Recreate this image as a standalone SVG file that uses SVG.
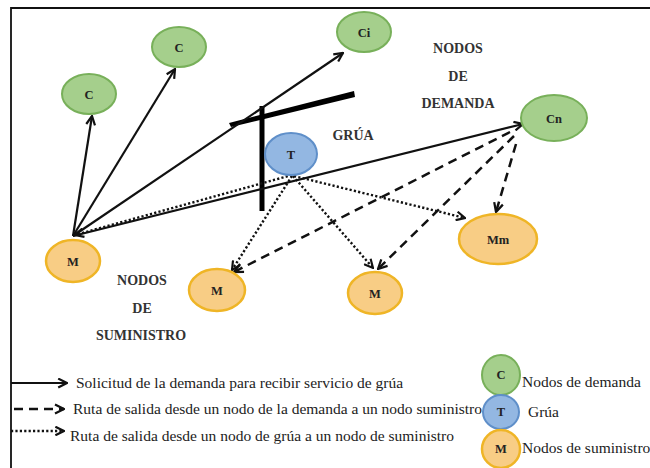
<svg xmlns="http://www.w3.org/2000/svg" width="650" height="468" viewBox="0 0 650 468">
<defs>
<marker id="ah" viewBox="0 0 10 10" refX="9" refY="5" markerWidth="5" markerHeight="5" orient="auto" markerUnits="strokeWidth">
<path d="M1,1 L9,5 L1,9" fill="none" stroke="#111" stroke-width="2"/>
</marker>
<marker id="ahs" viewBox="0 0 10 10" refX="9" refY="5" markerWidth="4.5" markerHeight="4.5" orient="auto" markerUnits="strokeWidth">
<path d="M1,1 L9,5 L1,9" fill="none" stroke="#111" stroke-width="2"/>
</marker>
</defs>
<style>
.g{fill:#a5cf8c;stroke:#78b05a;stroke-width:2}
.b{fill:#93b7e2;stroke:#5f8fc9;stroke-width:2}
.o{fill:#f8cd85;stroke:#efb526;stroke-width:2.5}
.sol{fill:none;stroke:#111;stroke-width:2.2;marker-end:url(#ah)}
.das{fill:none;stroke:#111;stroke-width:2.5;stroke-dasharray:9,6;marker-end:url(#ahs)}
.dot{fill:none;stroke:#111;stroke-width:2.4;stroke-dasharray:2.2,2.2;marker-end:url(#ahs)}
</style>
<rect width="650" height="468" fill="#fff"/>
<path d="M11,468 V8 H650" fill="none" stroke="#111" stroke-width="1.8"/>

<g id="crane">
<line x1="262" y1="106" x2="262" y2="211" stroke="#000" stroke-width="5"/>
<polygon points="229,123 231,127 355,97 354,91" fill="#000"/>
</g>

<g id="connectors">
<line class="sol" x1="73" y1="236" x2="92" y2="116"/>
<line class="sol" x1="73" y1="236" x2="175" y2="69"/>
<line class="sol" x1="73" y1="236" x2="343" y2="53"/>
<line class="sol" x1="73" y1="236" x2="523" y2="124"/>
<line class="dot" x1="292" y1="175" x2="75" y2="235"/>
<line class="dot" x1="292" y1="176" x2="232" y2="270"/>
<line class="dot" x1="293" y1="176" x2="373" y2="268"/>
<line class="dot" x1="294" y1="176" x2="465" y2="218"/>
<line class="das" x1="510" y1="132" x2="234" y2="272"/>
<line class="das" x1="514" y1="136" x2="378" y2="269"/>
<line class="das" x1="516" y1="144" x2="496" y2="212"/>
</g>

<g id="node-c1"><ellipse class="g" cx="89" cy="94" rx="27" ry="20"/><text style="font-family:'Liberation Serif',serif" font-size="12.5" font-weight="bold" fill="#222" text-anchor="middle" x="89" y="98.5">C</text></g>
<g id="node-c2"><ellipse class="g" cx="179" cy="47" rx="27" ry="20"/><text style="font-family:'Liberation Serif',serif" font-size="12.5" font-weight="bold" fill="#222" text-anchor="middle" x="179" y="51.5">C</text></g>
<g id="node-ci"><ellipse class="g" cx="364" cy="32" rx="27" ry="20"/><text style="font-family:'Liberation Serif',serif" font-size="12.5" font-weight="bold" fill="#222" text-anchor="middle" x="364" y="36.5">Ci</text></g>
<g id="node-cn"><ellipse class="g" cx="554" cy="118" rx="33" ry="23"/><text style="font-family:'Liberation Serif',serif" font-size="12.5" font-weight="bold" fill="#222" text-anchor="middle" x="554" y="122.5">Cn</text></g>
<g id="node-t"><ellipse class="b" cx="291" cy="154" rx="26" ry="21"/><text style="font-family:'Liberation Serif',serif" font-size="12.5" font-weight="bold" fill="#222" text-anchor="middle" x="291" y="158.5">T</text></g>
<g id="node-m1"><ellipse class="o" cx="73" cy="261" rx="27" ry="21"/><text style="font-family:'Liberation Serif',serif" font-size="12.5" font-weight="bold" fill="#222" text-anchor="middle" x="73" y="265.5">M</text></g>
<g id="node-m2"><ellipse class="o" cx="217" cy="290" rx="28" ry="21"/><text style="font-family:'Liberation Serif',serif" font-size="12.5" font-weight="bold" fill="#222" text-anchor="middle" x="217" y="294.5">M</text></g>
<g id="node-m3"><ellipse class="o" cx="375" cy="293" rx="27" ry="21"/><text style="font-family:'Liberation Serif',serif" font-size="12.5" font-weight="bold" fill="#222" text-anchor="middle" x="375" y="297.5">M</text></g>
<g id="node-mm"><ellipse class="o" cx="498" cy="239" rx="39" ry="25"/><text style="font-family:'Liberation Serif',serif" font-size="12.5" font-weight="bold" fill="#222" text-anchor="middle" x="498" y="243.5">Mm</text></g>

<g id="labels" font-size="14" font-weight="bold" fill="#333" text-anchor="middle">
<text style="font-family:'Liberation Serif',serif" x="458" y="53">NODOS</text>
<text style="font-family:'Liberation Serif',serif" x="458" y="81">DE</text>
<text style="font-family:'Liberation Serif',serif" x="458" y="108">DEMANDA</text>
<text style="font-family:'Liberation Serif',serif" x="353" y="140">GRÚA</text>
<text style="font-family:'Liberation Serif',serif" x="142" y="285">NODOS</text>
<text style="font-family:'Liberation Serif',serif" x="142" y="313">DE</text>
<text style="font-family:'Liberation Serif',serif" x="141" y="340">SUMINISTRO</text>
</g>

<g id="legend">
<line x1="11" y1="383" x2="67" y2="383" stroke="#111" stroke-width="2.2" marker-end="url(#ah)"/>
<line x1="14" y1="409" x2="64" y2="409" stroke="#111" stroke-width="2.5" stroke-dasharray="9,6" marker-end="url(#ahs)"/>
<line x1="11" y1="431" x2="64" y2="431" stroke="#111" stroke-width="2.4" stroke-dasharray="2.2,2.2" marker-end="url(#ahs)"/>
<g font-size="15.5" fill="#222">
<text style="font-family:'Liberation Serif',serif" x="76" y="388">Solicitud de la demanda para recibir servicio de grúa</text>
<text style="font-family:'Liberation Serif',serif" x="73" y="414">Ruta de salida desde un nodo de la demanda a un nodo suministro</text>
<text style="font-family:'Liberation Serif',serif" x="70" y="441">Ruta de salida desde un nodo de grúa a un nodo de suministro</text>
<text style="font-family:'Liberation Serif',serif" x="522" y="387">Nodos de demanda</text>
<text style="font-family:'Liberation Serif',serif" x="528" y="417">Grúa</text>
<text style="font-family:'Liberation Serif',serif" x="522" y="453">Nodos de suministro</text>
</g>
<g id="legend-c"><ellipse class="g" cx="501" cy="375" rx="19" ry="20"/><text style="font-family:'Liberation Serif',serif" font-size="12.5" font-weight="bold" fill="#222" text-anchor="middle" x="501" y="379">C</text></g>
<g id="legend-t"><ellipse class="b" cx="501" cy="412" rx="18" ry="17"/><text style="font-family:'Liberation Serif',serif" font-size="12.5" font-weight="bold" fill="#222" text-anchor="middle" x="501" y="416">T</text></g>
<g id="legend-m"><ellipse class="o" cx="501" cy="449" rx="19" ry="19"/><text style="font-family:'Liberation Serif',serif" font-size="12.5" font-weight="bold" fill="#222" text-anchor="middle" x="501" y="453">M</text></g>
</g>
</svg>
